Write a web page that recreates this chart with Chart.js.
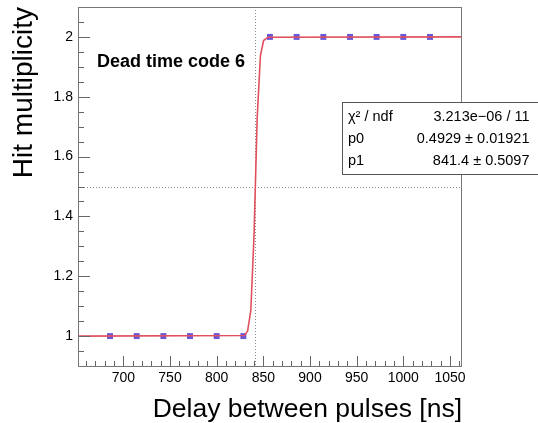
<!DOCTYPE html>
<html>
<head>
<meta charset="utf-8">
<script src="https://cdn.jsdelivr.net/npm/chart.js@4"></script>
<style>
  html, body { margin: 0; padding: 0; background: #fff; }
</style>
</head>
<body>
<canvas id="c" width="538" height="423"></canvas>
<script>
// ===== values =====
const delays = [685.7, 714.3, 742.9, 771.4, 800, 828.6, 857.1, 885.7, 914.3, 942.9, 971.4, 1000, 1028.6];
const multiplicity = [1, 1, 1, 1, 1, 1, 2, 2, 2, 2, 2, 2, 2];

// fit curve vertices (as drawn)
const fitX = [651.4, 829.6, 833.1, 836.6, 840.0, 843.4, 846.9, 850.3, 855.0, 1062.9];
const fitY = [1.0, 1.002, 1.016, 1.086, 1.334, 1.728, 1.938, 1.988, 1.999, 2.0];

const xTicks = [700, 750, 800, 850, 900, 950, 1000, 1050];
const yTicks = [1, 1.2, 1.4, 1.6, 1.8, 2];
const X_MIN = 651.4, X_MAX = 1062.9;
const Y_MIN = 0.9, Y_MAX = 2.1;
const CUT_X = 841.4;   // p1
const CUT_Y = 1.5;

const statRows = [
  ["\u03C7\u00B2 / ndf", "3.213e\u221206 / 11"],
  ["p0", "0.4929 \u00B1 0.01921"],
  ["p1", "841.4 \u00B1 0.5097"]
];
const plotLabel = "Dead time code 6";

const FONT = "'Liberation Sans', Arial, Helvetica, sans-serif";
const AXIS_COL = "#666";

// ===== ROOT-like frame, inward ticks, stats box =====
const rootDecor = {
  id: "rootDecor",
  beforeDatasetsDraw(chart) {
    const { ctx, chartArea: a, scales: { x, y } } = chart;
    ctx.save();
    ctx.strokeStyle = "#8a8a8a";
    ctx.lineWidth = 1;
    ctx.setLineDash([1, 2]);
    const px = Math.round(x.getPixelForValue(CUT_X)) + 0.5;
    const py = Math.round(y.getPixelForValue(CUT_Y)) + 0.5;
    ctx.beginPath();
    ctx.moveTo(px, a.top); ctx.lineTo(px, a.bottom);
    ctx.moveTo(a.left, py); ctx.lineTo(a.right, py);
    ctx.stroke();
    ctx.restore();
  },
  afterDraw(chart) {
    const { ctx, chartArea: a, scales: { x, y } } = chart;
    ctx.save();
    ctx.strokeStyle = AXIS_COL;
    ctx.lineWidth = 1;

    // x ticks every 10, major every 50
    ctx.beginPath();
    for (let v = 660; v <= 1060; v += 10) {
      const px = Math.round(x.getPixelForValue(v)) + 0.5;
      const len = v % 50 === 0 ? 10 : 5;
      ctx.moveTo(px, a.bottom); ctx.lineTo(px, a.bottom - len);
    }
    // y ticks every 0.05, major every 0.2
    for (let k = 0; k <= 24; k++) {
      const v = 0.9 + k * 0.05;
      const py = Math.round(y.getPixelForValue(v)) + 0.5;
      const len = k % 4 === 2 ? 12 : 6;
      ctx.moveTo(a.left, py); ctx.lineTo(a.left + len, py);
    }
    ctx.stroke();

    // frame
    ctx.strokeStyle = "#777";
    ctx.strokeRect(Math.round(a.left) + 0.5, Math.round(a.top) + 0.5,
                   Math.round(a.right - a.left) - 1, Math.round(a.bottom - a.top));

    // label
    ctx.fillStyle = "#000";
    ctx.font = "bold 18px " + FONT;
    ctx.textAlign = "left";
    ctx.textBaseline = "alphabetic";
    ctx.fillText(plotLabel, 97, 67);

    // stats box
    ctx.fillStyle = "#fff";
    ctx.fillRect(342, 102, 210, 72);
    ctx.strokeStyle = "#555";
    ctx.strokeRect(342.5, 102.5, 210, 72);
    ctx.fillStyle = "#000";
    ctx.font = "14.5px " + FONT;
    const base = [121, 143, 164.5];
    statRows.forEach((r, i) => {
      ctx.textAlign = "left";
      ctx.fillText(r[0], 348, base[i]);
      ctx.textAlign = "right";
      ctx.fillText(r[1], 529.5, base[i]);
    });
    ctx.restore();
  }
};

new Chart(document.getElementById("c"), {
  type: "scatter",
  data: {
    datasets: [
      {
        label: "fit",
        data: fitX.map((v, i) => ({ x: v, y: fitY[i] })),
        showLine: true,
        borderColor: "#e0505e",
        borderWidth: 1.6,
        pointRadius: 0,
        tension: 0,
        order: 0
      },
      {
        label: "data",
        data: delays.map((v, i) => ({ x: v, y: multiplicity[i] })),
        showLine: false,
        pointStyle: "rect",
        pointRadius: 4.2,
        backgroundColor: "#6658d8",
        borderWidth: 0,
        order: 1
      }
    ]
  },
  options: {
    responsive: false,
    animation: false,
    layout: { padding: { top: 7, right: 76, left: 0, bottom: 0 } },
    plugins: { legend: { display: false }, tooltip: { enabled: false } },
    scales: {
      x: {
        type: "linear",
        min: X_MIN, max: X_MAX,
        afterBuildTicks: s => { s.ticks = xTicks.map(v => ({ value: v })); },
        afterFit: s => { s.height = 57; s.paddingLeft = 0; s.paddingRight = 0; },
        grid: { display: false, drawTicks: false },
        border: { display: false },
        ticks: {
          color: "#000", padding: 5, maxRotation: 0, autoSkip: false,
          font: { family: FONT, size: 14, lineHeight: 1 },
          callback: v => String(v)
        },
        title: {
          display: true, text: "Delay between pulses [ns]", align: "end", color: "#000",
          font: { family: FONT, size: 26.5, lineHeight: 1 },
          padding: { top: 0, bottom: 0 }
        }
      },
      y: {
        type: "linear",
        min: Y_MIN, max: Y_MAX,
        afterBuildTicks: s => { s.ticks = yTicks.map(v => ({ value: v })); },
        afterFit: s => { s.width = 78; s.paddingTop = 0; s.paddingBottom = 0; },
        grid: { display: false, drawTicks: false },
        border: { display: false },
        ticks: {
          color: "#000", padding: 5, autoSkip: false,
          font: { family: FONT, size: 14, lineHeight: 1 },
          callback: v => String(v)
        },
        title: {
          display: true, text: "Hit multiplicity", align: "end", color: "#000",
          font: { family: FONT, size: 28, lineHeight: 1 },
          padding: { top: 10, bottom: 0 }
        }
      }
    }
  },
  plugins: [rootDecor]
});
</script>
</body>
</html>
